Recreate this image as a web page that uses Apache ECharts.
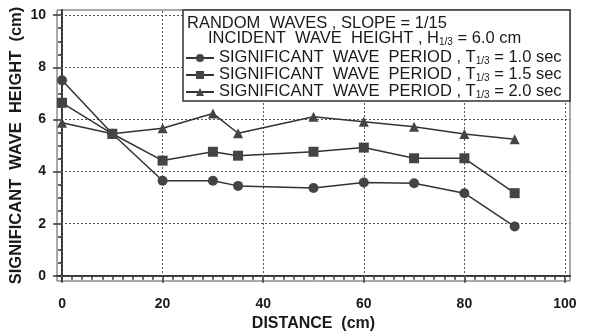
<!DOCTYPE html>
<html>
<head>
<meta charset="utf-8">
<script src="https://cdn.jsdelivr.net/npm/echarts@6/dist/echarts.min.js"></script>
<style>
  html, body { margin: 0; padding: 0; background: #fff; }
  #chart_container { width: 591px; height: 332px; }
</style>
</head>
<body>
<div id="chart_container"></div>
<script>
// distance (cm) of each gauge
var distance = [0, 10, 20, 30, 35, 50, 60, 70, 80, 90];
// significant wave height (cm) per wave period
var hT10 = [7.5, 5.45, 3.65, 3.65, 3.45, 3.37, 3.58, 3.55, 3.17, 1.89];
var hT15 = [6.64, 5.45, 4.42, 4.76, 4.61, 4.76, 4.92, 4.51, 4.51, 3.17];
var hT20 = [5.87, 5.45, 5.66, 6.23, 5.47, 6.1, 5.91, 5.72, 5.44, 5.24];
// axis ticks
var xMajor = [0, 20, 40, 60, 80, 100];
var xMinor = [0, 2, 4, 6, 8, 10, 12, 14, 16, 18, 20, 22, 24, 26, 28, 30, 32, 34, 36, 38, 40,
  42, 44, 46, 48, 50, 52, 54, 56, 58, 60, 62, 64, 66, 68, 70, 72, 74, 76, 78, 80,
  82, 84, 86, 88, 90, 92, 94, 96, 98, 100];
var yMajor = [0, 2, 4, 6, 8, 10];
var yMinor = [0, 0.5, 1, 1.5, 2, 2.5, 3, 3.5, 4, 4.5, 5, 5.5, 6, 6.5, 7, 7.5, 8, 8.5, 9, 9.5, 10];

var FONT = "Liberation Sans, Arial, sans-serif";
var INK = "#333";
var TXT = "#1a1a1a";
var FS = 16.5;

function pairs(xs, ys) {
  var out = [];
  for (var i = 0; i < xs.length; i++) out.push([xs[i], ys[i]]);
  return out;
}

var chart = echarts.init(document.getElementById('chart_container'));

var gridLines = [];
xMajor.forEach(function (v) { gridLines.push({ xAxis: v }); });
yMajor.forEach(function (v) { gridLines.push({ yAxis: v }); });

function lineSeries(name, data, symbol, size) {
  return {
    name: name,
    type: 'line',
    data: data,
    symbol: symbol,
    symbolSize: size,
    lineStyle: { color: INK, width: 1.5 },
    itemStyle: { color: '#444', borderWidth: 0 },
    animation: false,
    z: 5
  };
}

var s1 = lineSeries('T10', pairs(distance, hT10), 'circle', 10);
s1.markLine = {
  silent: true,
  symbol: 'none',
  label: { show: false },
  lineStyle: { color: '#555', type: [2, 2], width: 1 },
  data: gridLines,
  animation: false
};

var legendText = {
  T10: '1.0',
  T15: '1.5',
  T20: '2.0'
};

function richFor(key) {
  var r = {
    a: { fontFamily: FONT, fontSize: FS, lineHeight: 16, verticalAlign: 'bottom' },
    s: { fontFamily: FONT, fontSize: 10, lineHeight: 12, verticalAlign: 'bottom' }
  };
  r.a[key] = TXT;
  r.s[key] = TXT;
  return r;
}

var gridBox = { left: 57, right: 21, top: 10, bottom: 51 };

var option = {
  backgroundColor: '#fff',
  grid: [{
    left: gridBox.left, right: gridBox.right, top: gridBox.top, bottom: gridBox.bottom,
    outerBoundsMode: 'none', containLabel: false,
    show: true, borderColor: '#555', borderWidth: 1
  }, {
    left: gridBox.left, right: gridBox.right, top: gridBox.top, bottom: gridBox.bottom,
    outerBoundsMode: 'none', containLabel: false,
    show: false
  }],
  xAxis: [{
    type: 'value', min: -1, max: 101, gridIndex: 0,
    axisLine: { show: true, lineStyle: { color: INK, width: 2 } },
    axisTick: { show: true, customValues: xMajor, length: 7, lineStyle: { color: INK, width: 1.5 } },
    axisLabel: { customValues: xMajor, margin: 16, color: TXT, fontFamily: FONT, fontWeight: 'bold', fontSize: 14 },
    splitLine: { show: false },
    name: 'DISTANCE  (cm)', nameLocation: 'middle', nameGap: 33,
    nameTextStyle: { color: TXT, fontFamily: FONT, fontWeight: 'bold', fontSize: 16 }
  }, {
    type: 'value', min: -1, max: 101, gridIndex: 1, position: 'bottom',
    axisLine: { show: false },
    axisTick: { show: true, customValues: xMinor, length: 4, lineStyle: { color: INK, width: 1.5 } },
    axisLabel: { show: false },
    splitLine: { show: false }
  }],
  yAxis: [{
    type: 'value', min: -0.2, max: 10.2, gridIndex: 0,
    axisLine: { show: true, lineStyle: { color: INK, width: 2 } },
    axisTick: { show: true, customValues: yMajor, length: 9, lineStyle: { color: INK, width: 1.5 } },
    axisLabel: { customValues: yMajor, margin: 11, color: TXT, fontFamily: FONT, fontWeight: 'bold', fontSize: 14 },
    splitLine: { show: false },
    name: 'SIGNIFICANT  WAVE  HEIGHT  (cm)', nameLocation: 'middle', nameGap: 32, nameRotate: 90,
    nameMoveOverlap: false,
    nameTextStyle: { color: TXT, fontFamily: FONT, fontWeight: 'bold', fontSize: 16.5 }
  }, {
    type: 'value', min: -0.2, max: 10.2, gridIndex: 1, position: 'left',
    axisLine: { show: false },
    axisTick: { show: true, customValues: yMinor, length: 4, lineStyle: { color: INK, width: 1.5 } },
    axisLabel: { show: false },
    splitLine: { show: false }
  }],
  legend: {
    orient: 'vertical',
    left: 185, top: 49,
    itemWidth: 28, itemHeight: 10, itemGap: 0,
    padding: 0,
    z: 20,
    data: ['T10', 'T15', 'T20'],
    formatter: function (name) {
      return '{a|SIGNIFICANT  WAVE  PERIOD , T}{s|1/3}{a| = ' + legendText[name] + ' sec}';
    },
    textStyle: {
      color: TXT, fontFamily: FONT, fontSize: FS, lineHeight: 16,
      rich: richFor('color')
    }
  },
  graphic: [{
    type: 'rect', z: 10,
    shape: { x: 183, y: 10, width: 387, height: 91 },
    style: { fill: '#fff', stroke: INK, lineWidth: 1.5 }
  }, {
    type: 'text', z: 21, left: 187, top: 15,
    style: {
      text: 'RANDOM  WAVES , SLOPE = 1/15',
      fill: TXT, fontFamily: FONT, fontSize: FS
    }
  }, {
    type: 'text', z: 21, left: 208, top: 30,
    style: {
      text: '{a|INCIDENT  WAVE  HEIGHT , H}{s|1/3}{a| = 6.0 cm}',
      fill: TXT, fontFamily: FONT, fontSize: FS,
      rich: richFor('fill')
    }
  }],
  series: [
    s1,
    lineSeries('T15', pairs(distance, hT15), 'rect', 10),
    lineSeries('T20', pairs(distance, hT20), 'triangle', 10)
  ]
};

chart.setOption(option);
</script>
</body>
</html>
